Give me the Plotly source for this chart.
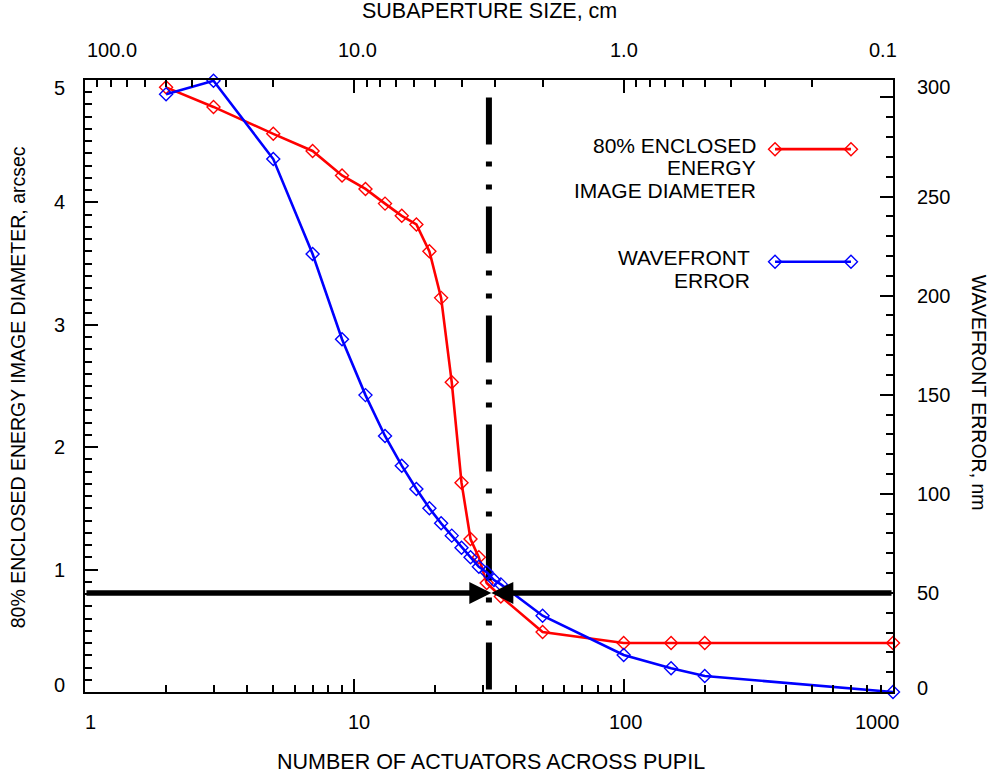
import math
import plotly.graph_objects as go

# ---------------- data ----------------
red_n = [2, 3, 5, 7, 9, 11, 13, 15, 17, 19, 21, 23, 25, 27, 29, 31, 35, 50, 100, 150, 200, 1000]
red_arcsec = [4.94, 4.78, 4.56, 4.42, 4.22, 4.11, 3.99, 3.89, 3.82, 3.60, 3.22, 2.53, 1.71,
              1.25, 1.10, 0.89, 0.78, 0.49, 0.40, 0.40, 0.40, 0.40]
blue_n = [2, 3, 5, 7, 9, 11, 13, 15, 17, 19, 21, 23, 25, 27, 29, 31, 33, 35, 50, 100, 150, 200, 1000]
blue_nm = [301.6, 308.4, 268.9, 221.0, 178.0, 149.8, 129.2, 114.2, 102.4, 92.7, 85.1, 78.9,
           72.8, 68.0, 63.2, 60.4, 56.5, 54.3, 38.5, 18.7, 12.0, 8.1, 0.0]

marker_n = 31.6          # vertical dash-dot marker (actuators)
marker_nm = 50           # horizontal arrow level (nm)
marker_top_nm = 300

bottom_vals = [1, 10, 100, 1000]
bottom_text = ["1", "10", "100", "1000"]
top_vals = [100, 10, 1, 0.1]
top_text = ["100.0", "10.0", "1.0", "0.1"]
left_vals = [0, 1, 2, 3, 4, 5]
left_text = ["0", "1", "2", "3", "4", "5"]
right_vals = [0, 50, 100, 150, 200, 250, 300]
right_text = ["0", "50", "100", "150", "200", "250", "300"]

legend_red = ["80% ENCLOSED", "ENERGY", "IMAGE DIAMETER"]
legend_blue = ["WAVEFRONT", "ERROR"]

# ---------------- style ----------------
FONT = "Liberation Sans, Arial, Helvetica, sans-serif"
FS = 20
FS_TITLE = 21.5
FS_LEG = 21
FS_VTITLE = 19.5
RED = "#ff0000"
BLUE = "#0000ff"

bottom_shift = [5, 5, 2, -16]
top_shift = [27, 3, 0, -10]
left_yshift = [7, 0, 0, 0, 0, -8]
right_yshift = [4, 0, 0, 0, 0, 0, 10]

fig = go.Figure()

# vertical dash-dot marker line
fig.add_trace(go.Scatter(
    x=[marker_n, marker_n], y=[marker_top_nm, 0], xaxis="x", yaxis="y2",
    mode="lines", line=dict(color="black", width=6, dash="47px,17px,5px,18px,5px,17px"),
    showlegend=False, hoverinfo="skip", cliponaxis=False))

# data
mk = dict(symbol="diamond-open", size=10)
fig.add_trace(go.Scatter(
    x=red_n, y=red_arcsec, xaxis="x", yaxis="y", mode="lines+markers",
    line=dict(color=RED, width=2.6),
    marker=dict(**mk, color=RED, line=dict(width=1.4, color=RED)),
    showlegend=False, cliponaxis=False))
fig.add_trace(go.Scatter(
    x=blue_n, y=blue_nm, xaxis="x", yaxis="y2", mode="lines+markers",
    line=dict(color=BLUE, width=2.6),
    marker=dict(**mk, color=BLUE, line=dict(width=1.4, color=BLUE)),
    showlegend=False, cliponaxis=False))

# placeholder to register the top axis
fig.add_trace(go.Scatter(x=[10], y=[None], xaxis="x2", yaxis="y", showlegend=False,
                         hoverinfo="skip"))

# legend samples on a hidden unit overlay
fig.add_trace(go.Scatter(
    x=[0.854, 0.948], y=[0.887, 0.887], xaxis="x3", yaxis="y3", mode="lines+markers",
    line=dict(color=RED, width=2.6),
    marker=dict(**mk, color=RED, line=dict(width=1.4, color=RED)),
    showlegend=False, hoverinfo="skip", cliponaxis=False))
fig.add_trace(go.Scatter(
    x=[0.854, 0.948], y=[0.703, 0.703], xaxis="x3", yaxis="y3", mode="lines+markers",
    line=dict(color=BLUE, width=2.6),
    marker=dict(**mk, color=BLUE, line=dict(width=1.4, color=BLUE)),
    showlegend=False, hoverinfo="skip", cliponaxis=False))

ann = []
lf = dict(family=FONT, size=FS, color="black")
tf = dict(family=FONT, size=FS_TITLE, color="black")
gf = dict(family=FONT, size=FS_LEG, color="black")
vf = dict(family=FONT, size=FS_VTITLE, color="black")

for v, t, s in zip(bottom_vals, bottom_text, bottom_shift):
    ann.append(dict(x=math.log10(v), xref="x", y=0, yref="paper", text=t, showarrow=False,
                    xanchor="center", yanchor="middle", yshift=-30, xshift=s, font=lf))
for v, t, s in zip(top_vals, top_text, top_shift):
    ann.append(dict(x=math.log10(v), xref="x2", y=1, yref="paper", text=t, showarrow=False,
                    xanchor="center", yanchor="middle", yshift=30, xshift=s, font=lf))
for v, t, s in zip(left_vals, left_text, left_yshift):
    ann.append(dict(x=0, xref="paper", y=v, yref="y", text=t, showarrow=False,
                    xanchor="right", yanchor="middle", xshift=-18, yshift=s, font=lf))
for v, t, s in zip(right_vals, right_text, right_yshift):
    ann.append(dict(x=1, xref="paper", y=v, yref="y2", text=t, showarrow=False,
                    xanchor="left", yanchor="middle", xshift=22, yshift=s, font=lf))

# axis titles
ann.append(dict(x=0.501, xref="paper", y=1, yref="paper", text="SUBAPERTURE SIZE, cm",
                showarrow=False, yanchor="middle", yshift=69, font=tf))
ann.append(dict(x=0.502, xref="paper", y=0, yref="paper", text="NUMBER OF ACTUATORS ACROSS PUPIL",
                showarrow=False, yanchor="middle", yshift=-70, font=tf))
ann.append(dict(x=0, xref="paper", y=0.498, yref="paper",
                text="80% ENCLOSED ENERGY IMAGE DIAMETER, arcsec", textangle=-90,
                showarrow=False, xanchor="center", xshift=-67, font=vf))
ann.append(dict(x=1, xref="paper", y=0.489, yref="paper", text="WAVEFRONT ERROR, nm",
                textangle=90, showarrow=False, xanchor="center", xshift=86, font=vf))

# legend text
for i, t in enumerate(legend_red):
    ann.append(dict(x=0.8329, xref="paper", y=1, yref="paper", text=t, showarrow=False,
                    xanchor="right", yanchor="middle", yshift=-(65 + 22.5 * i), font=gf))
for i, t in enumerate(legend_blue):
    ann.append(dict(x=0.8255, xref="paper", y=1, yref="paper", text=t, showarrow=False,
                    xanchor="right", yanchor="middle", yshift=-(177 + 23 * i), font=gf))

# horizontal arrows
for tail in (0, 3):
    ann.append(dict(x=math.log10(marker_n) + 0.009, xref="x", y=marker_nm, yref="y2",
                    ax=tail, axref="x", ay=marker_nm, ayref="y2", text="", showarrow=True,
                    arrowhead=2, arrowsize=0.8, arrowwidth=5.5, arrowcolor="black",
                    standoff=0, startstandoff=0))

axis_common = dict(showline=True, linecolor="black", linewidth=2, ticks="inside",
                   tickcolor="black", tickwidth=1.5, ticklen=13, showgrid=False,
                   zeroline=False, showticklabels=False, mirror=False)

minor_bottom = [m * 10 ** d for d in range(0, 3) for m in range(2, 10)]
minor_top = [m * 10 ** d for d in (-1, 0, 1) for m in range(2, 10)]

fig.update_layout(
    width=995, height=776,
    margin=dict(l=85, r=102, t=80, b=84),
    paper_bgcolor="white", plot_bgcolor="white",
    font=dict(family=FONT, size=FS, color="black"),
    xaxis=dict(type="log", range=[0, 3], tickvals=bottom_vals, side="bottom",
               minor=dict(tickvals=minor_bottom, ticks="inside", ticklen=7,
                          tickcolor="black", tickwidth=1.5),
               **axis_common),
    xaxis2=dict(type="log", range=[2, -1], overlaying="x", side="top", anchor="y",
                tickvals=top_vals,
                minor=dict(tickvals=minor_top, ticks="inside", ticklen=7,
                           tickcolor="black", tickwidth=1.5),
                **axis_common),
    yaxis=dict(range=[0, 5], tickvals=left_vals, side="left",
               minor=dict(dtick=0.1, ticks="inside", ticklen=7, tickcolor="black",
                          tickwidth=1.5),
               **axis_common),
    yaxis2=dict(range=[0, 308.8], tickvals=right_vals, overlaying="y", side="right",
                anchor="x",
                minor=dict(dtick=10, ticks="inside", ticklen=7, tickcolor="black",
                           tickwidth=1.5),
                **axis_common),
    xaxis3=dict(range=[0, 1], overlaying="x", visible=False, anchor="y3"),
    yaxis3=dict(range=[0, 1], overlaying="y", visible=False, anchor="x3"),
    annotations=ann,
    showlegend=False,
)

# remove the page's default body margin so the figure sits at the window origin
fig.write_html("out.html",
               config={"displayModeBar": False},
               post_script="document.body.style.margin='0px';document.body.style.overflow='hidden';")
